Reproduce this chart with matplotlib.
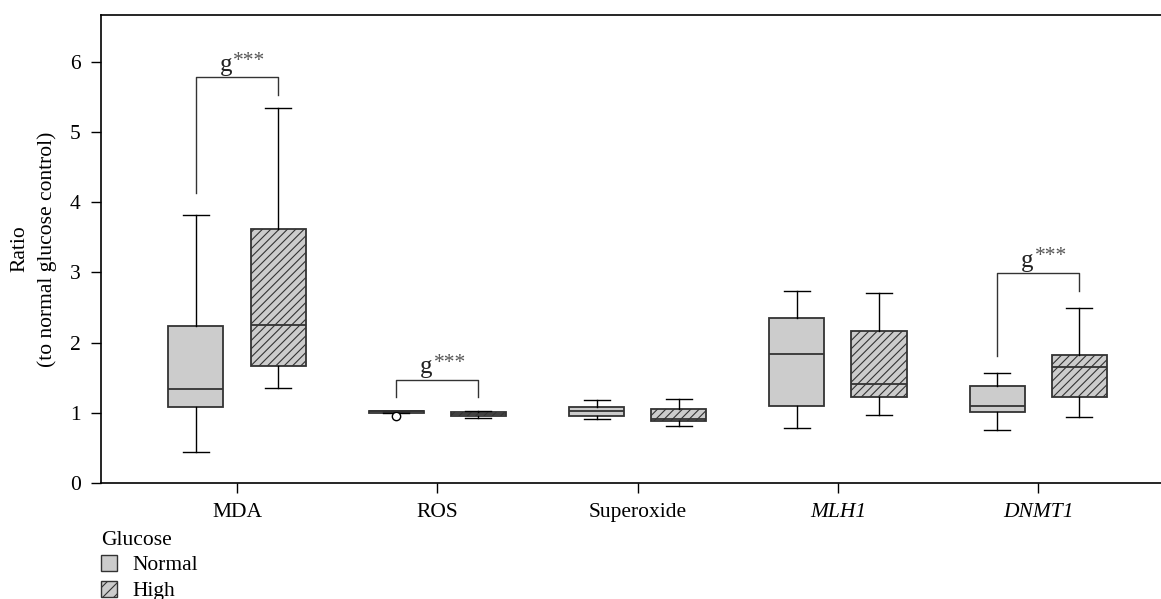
import numpy as np
import matplotlib.pyplot as plt
from matplotlib.patches import Patch

plt.rcParams['font.family'] = ['Liberation Serif', 'DejaVu Serif']
plt.rcParams['hatch.linewidth'] = 0.8
plt.rcParams['hatch.color'] = '#333333'

categories = ['MDA', 'ROS', 'Superoxide', 'MLH1', 'DNMT1']
italic_cats = ['MLH1', 'DNMT1']

# five-number summaries
normal_low = [0.44, 1.00, 0.91, 0.78, 0.75]
normal_q1 = [1.08, 1.00, 0.96, 1.10, 1.01]
normal_med = [1.34, 1.02, 1.02, 1.84, 1.10]
normal_q3 = [2.24, 1.03, 1.08, 2.35, 1.38]
normal_high = [3.82, 1.03, 1.18, 2.74, 1.57]
normal_out = [[], [0.96], [], [], []]

high_low = [1.35, 0.93, 0.81, 0.97, 0.94]
high_q1 = [1.67, 0.96, 0.88, 1.23, 1.23]
high_med = [2.25, 0.98, 0.91, 1.41, 1.66]
high_q3 = [3.62, 1.01, 1.06, 2.17, 1.83]
high_high = [5.35, 1.03, 1.19, 2.71, 2.50]
high_out = [[], [], [], [], []]

# significance brackets: category index, bracket top, left leg end, right leg end
sig_idx = [0, 1, 4]
sig_top = [5.78, 1.47, 2.99]
sig_left = [4.13, 1.23, 1.81]
sig_right = [5.53, 1.23, 2.74]


def stats(low, q1, med, q3, high, out):
    return [dict(whislo=a, q1=b, med=c, q3=d, whishi=e, fliers=f)
            for a, b, c, d, e, f in zip(low, q1, med, q3, high, out)]


fig = plt.figure(figsize=(11.61, 5.99), dpi=100)
ax = fig.add_axes([0.087, 0.1937, 0.913, 0.7813])

x = np.arange(len(categories))
off = 0.205
w = 0.275
edge = '#333333'
fs = 15.5
props = dict(
    boxprops=dict(facecolor='#cccccc', edgecolor=edge, linewidth=1.3),
    medianprops=dict(color=edge, linewidth=1.3),
    whiskerprops=dict(color='black', linewidth=1.0),
    capprops=dict(color='black', linewidth=1.0),
    flierprops=dict(marker='o', markerfacecolor='white', markeredgecolor='black',
                    markersize=6),
)

bn = ax.bxp(stats(normal_low, normal_q1, normal_med, normal_q3, normal_high, normal_out),
            positions=x - off, widths=w, capwidths=0.13, patch_artist=True,
            manage_ticks=False, **props)
bh = ax.bxp(stats(high_low, high_q1, high_med, high_q3, high_high, high_out),
            positions=x + off, widths=w, capwidths=0.13, patch_artist=True,
            manage_ticks=False, **props)
for b in bh['boxes']:
    b.set_hatch('////')

for i, t, l, r in zip(sig_idx, sig_top, sig_left, sig_right):
    xl, xr = x[i] - off, x[i] + off
    ax.plot([xl, xl, xr, xr], [l, t, t, r], color='#333333', lw=1.0)
    ax.annotate('g', xy=(x[i], t), xytext=(-3.2, 1.2), textcoords='offset points',
                ha='right', va='bottom', fontsize=18, color='#222222')
    ax.annotate('***', xy=(x[i], t), xytext=(-2.6, 18.5), textcoords='offset points',
                ha='left', va='top', fontsize=15.5, color='#555555')

ax.set_xlim(-0.679, 4.613)
ax.set_ylim(0, 6.67)
ax.set_xticks(x)
ax.set_xticklabels(categories, fontsize=fs)
for lab in ax.get_xticklabels():
    if lab.get_text() in italic_cats:
        lab.set_style('italic')
ax.set_yticks(range(7))
ax.tick_params(axis='both', direction='out', length=7, width=1.0, labelsize=fs)
ax.tick_params(axis='x', pad=7.5)
ax.tick_params(axis='y', pad=7.5)
ax.spines['right'].set_visible(False)
for s in ['left', 'top', 'bottom']:
    ax.spines[s].set_linewidth(1.2)
ax.set_ylabel('Ratio\n(to normal glucose control)', fontsize=fs, labelpad=9,
              linespacing=1.55)

handles = [Patch(facecolor='#cccccc', edgecolor=edge, label='Normal'),
           Patch(facecolor='#cccccc', edgecolor=edge, hatch='///', label='High')]
leg = fig.legend(handles=handles, title='Glucose', loc='upper left',
                 bbox_to_anchor=(0.0775, 0.132), frameon=False, fontsize=fs,
                 title_fontsize=fs, handlelength=0.75, handleheight=0.75,
                 handletextpad=0.7, labelspacing=0.25, borderpad=0.0)
leg._legend_box.align = 'left'

fig.savefig('out.png', dpi=100)
